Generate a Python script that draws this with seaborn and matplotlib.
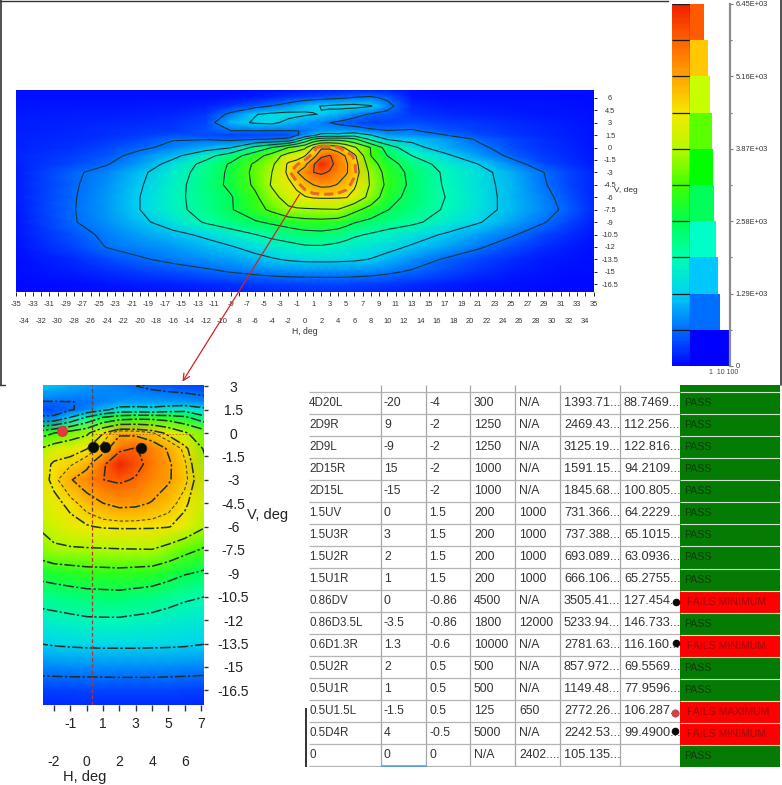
import matplotlib
matplotlib.use("Agg")
import matplotlib.pyplot as plt
from matplotlib.colors import LinearSegmentedColormap, ListedColormap

import numpy as np
import seaborn as sns

# Beam pattern, cd per cell (top row is V=7)
H_DEG = [-35, -28, -24, -20, -16, -12, -9, -6, -4, -2, -1, 0, 1, 2, 3, 4, 5, 6, 8, 10, 13, 17, 21, 25, 29, 32, 35]
V_DEG = [7, 6, 5, 4, 3, 2, 1.5, 1, 0, -1, -2, -3, -4.5, -6, -7.5, -9, -10.5, -12, -13.5, -15, -16.5, -17.5]
FIELD = [
    [50, 50, 50, 50, 50, 50, 50, 60, 70, 90, 100, 110, 120, 130, 140, 150, 160, 170, 170, 130, 60, 50, 50, 50, 40, 40, 30],
    [70, 70, 60, 60, 60, 70, 90, 150, 220, 320, 360, 400, 450, 500, 530, 570, 620, 680, 730, 560, 110, 70, 70, 60, 60, 50, 40],
    [90, 100, 100, 110, 120, 170, 300, 500, 660, 850, 1000, 1150, 1250, 1300, 1350, 1400, 1430, 1450, 1330, 800, 220, 130, 110, 90, 80, 70, 50],
    [120, 140, 150, 170, 190, 300, 750, 1270, 1400, 1450, 1400, 1350, 1300, 1280, 1180, 1100, 950, 800, 590, 520, 300, 210, 170, 130, 100, 80, 60],
    [140, 170, 190, 220, 260, 400, 1100, 1350, 1400, 1150, 1050, 950, 850, 750, 650, 560, 490, 430, 360, 360, 450, 340, 280, 210, 160, 110, 70],
    [150, 190, 230, 280, 320, 470, 630, 630, 620, 630, 640, 660, 760, 900, 950, 950, 940, 930, 750, 660, 690, 480, 370, 270, 190, 130, 80],
    [155, 200, 250, 320, 450, 420, 400, 400, 420, 440, 600, 800, 1150, 1500, 1500, 1450, 1600, 1700, 1300, 900, 850, 650, 450, 300, 200, 140, 85],
    [160, 220, 280, 380, 620, 620, 530, 620, 660, 720, 1300, 2000, 2600, 2900, 3000, 3000, 2900, 2700, 1800, 1250, 1180, 950, 590, 380, 240, 160, 90],
    [170, 260, 380, 560, 760, 1040, 1250, 2130, 2580, 3225, 3500, 3750, 4500, 5050, 5000, 4800, 4400, 3950, 3200, 2300, 1450, 1050, 750, 440, 270, 180, 100],
    [180, 330, 500, 800, 1150, 1720, 2280, 2950, 3500, 4170, 4320, 4500, 4900, 5650, 5850, 5500, 5100, 4650, 3230, 2580, 1935, 1400, 950, 560, 320, 210, 110],
    [170, 420, 620, 950, 1480, 2130, 2650, 3330, 3750, 4600, 4700, 5000, 5700, 6400, 6000, 5580, 5240, 4800, 3500, 2870, 2250, 1720, 1290, 820, 420, 260, 120],
    [150, 580, 800, 1180, 1640, 2200, 2700, 3400, 3870, 4630, 5120, 5460, 5800, 5900, 5750, 5450, 5220, 4850, 3700, 3000, 2400, 1850, 1470, 1060, 645, 380, 180],
    [130, 600, 880, 1240, 1720, 2250, 2720, 3340, 3930, 4400, 4620, 4920, 5160, 5300, 5270, 5130, 4900, 4600, 3800, 3080, 2430, 1880, 1480, 1120, 680, 400, 180],
    [130, 620, 920, 1290, 1770, 2200, 2530, 3120, 3680, 4120, 4380, 4480, 4560, 4580, 4580, 4570, 4540, 4350, 3650, 2850, 2370, 1935, 1530, 1120, 760, 470, 200],
    [120, 630, 930, 1290, 1750, 2180, 2530, 3000, 3350, 3760, 3780, 3800, 3810, 3830, 3840, 3850, 3650, 3400, 2980, 2600, 2280, 1880, 1500, 1140, 800, 540, 220],
    [100, 620, 880, 1180, 1520, 2000, 2280, 2520, 2680, 2850, 2930, 3000, 3020, 3040, 3000, 2950, 2800, 2620, 2420, 2250, 2060, 1680, 1330, 1000, 670, 400, 160],
    [80, 480, 740, 960, 1170, 1380, 1650, 1930, 2100, 2230, 2300, 2360, 2380, 2400, 2340, 2280, 2150, 2020, 1880, 1720, 1520, 1240, 960, 700, 400, 230, 90],
    [70, 400, 660, 790, 930, 1110, 1250, 1480, 1620, 1740, 1800, 1860, 1870, 1870, 1820, 1770, 1700, 1640, 1560, 1430, 1230, 1000, 700, 430, 240, 150, 70],
    [50, 220, 420, 600, 740, 870, 980, 1120, 1240, 1340, 1370, 1390, 1400, 1400, 1400, 1390, 1380, 1360, 1270, 1130, 880, 600, 400, 240, 120, 80, 50],
    [30, 130, 230, 340, 450, 560, 660, 750, 800, 830, 840, 840, 845, 850, 850, 850, 840, 830, 790, 720, 590, 410, 260, 150, 80, 50, 30],
    [15, 50, 90, 130, 170, 220, 270, 310, 340, 370, 375, 380, 385, 390, 390, 390, 380, 370, 350, 310, 230, 160, 100, 60, 35, 25, 15],
    [10, 30, 50, 70, 90, 120, 150, 170, 190, 200, 205, 210, 215, 220, 220, 220, 215, 210, 190, 170, 130, 90, 60, 40, 20, 15, 10],
]
LEVELS = [645, 1290, 1935, 2580, 3225, 3870, 4515, 5160, 5805]
VMAX = 6450
OUTLINE_LEVEL = [4750]

# Measured points marked on the zoomed panel
DOT_H = [0.4, 1.1, 3.35]
DOT_V = [-0.9, -0.9, -0.95]
FAIL_MAX_H = [-1.5]
FAIL_MAX_V = [0.15]

# Legend: histogram bar length per band, top band first
BAND_COLORS = ["#ff5a00", "#ffc800", "#c8ff00", "#5aff00", "#00ff00",
               "#00ff5a", "#00ffc8", "#00c8ff", "#006eff", "#0000ff"]
BAND_LENGTHS = [14, 18, 20, 22, 22.5, 23.5, 26, 28, 30, 39]
LEGEND_LABELS = ["6.45E+03", "5.16E+03", "3.87E+03", "2.58E+03", "1.29E+03", "0"]

# Test point table
COL_NAME = ["4D20R", "4D20L", "2D9R", "2D9L", "2D15R", "2D15L", "1.5UV", "1.5U3R", "1.5U2R", "1.5U1R",
            "0.86DV", "0.86D3.5L", "0.6D1.3R", "0.5U2R", "0.5U1R", "0.5U1.5L", "0.5D4R", "0"]
COL_H = ["20", "-20", "9", "-9", "15", "-15", "0", "3", "2", "1", "0", "-3.5", "1.3", "2", "1", "-1.5", "4", "0"]
COL_V = ["-4", "-4", "-2", "-2", "-2", "-2", "1.5", "1.5", "1.5", "1.5", "-0.86", "-0.86", "-0.6", "0.5", "0.5", "0.5", "-0.5", "0"]
COL_MIN = ["300", "300", "1250", "1250", "1000", "1000", "200", "200", "200", "200",
           "4500", "1800", "10000", "500", "500", "125", "5000", "N/A"]
COL_MAX = ["N/A", "N/A", "N/A", "N/A", "N/A", "N/A", "1000", "1000", "1000", "1000",
           "N/A", "12000", "N/A", "N/A", "N/A", "650", "N/A", "2402...."]
COL_CD = ["1403.41...", "1393.71...", "2469.43...", "3125.19...", "1591.15...", "1845.68...", "731.366...",
          "737.388...", "693.089...", "666.106...", "3505.41...", "5233.94...", "2781.63...", "857.972...",
          "1149.48...", "2772.26...", "2242.53...", "105.135..."]
COL_LM = ["92.3002...", "88.7469...", "112.256...", "122.816...", "94.2109...", "100.805...", "64.2229...",
          "65.1015...", "63.0936...", "65.2755...", "127.454...", "146.733...", "116.160...", "69.5569...",
          "77.9596...", "106.287...", "99.4900...", ""]
STATUS = ["PASS"] * 10 + ["FAILS MINIMUM", "PASS", "FAILS MINIMUM", "PASS", "PASS",
                          "FAILS MAXIMUM", "FAILS MINIMUM", "PASS"]

W, H = 782, 785
sns.set_theme(style="white")
plt.rcParams["font.family"] = ["Liberation Sans", "DejaVu Sans"]

pattern_cmap = LinearSegmentedColormap.from_list(
    "pattern",
    ["#0008ff", "#0070ff", "#00d4f0", "#00ffb0", "#00ff50", "#40ff00",
     "#b8f800", "#f4ea00", "#ffa400", "#ff6400", "#f02000"])


def axes_px(fig, x0, y0, x1, y1, **kw):
    return fig.add_axes([x0 / W, 1 - y1 / H, (x1 - x0) / W, (y1 - y0) / H], **kw)


def draw_field(ax):
    grid_h, grid_v = np.meshgrid(H_DEG, V_DEG)
    z = np.array(FIELD, dtype=float)
    ax.pcolormesh(grid_h, grid_v, z, cmap=pattern_cmap, vmin=0, vmax=VMAX, shading="gouraud")
    return grid_h, grid_v, z


fig = plt.figure(figsize=(W / 100, H / 100), dpi=100)

# 1. Full pattern
ax = axes_px(fig, 16.3, 89.5, 593.5, 291.7)
gh, gv, z = draw_field(ax)
ax.contour(gh, gv, z, levels=LEVELS, colors="#12383c", linewidths=0.8)
ax.contour(gh, gv, z, levels=OUTLINE_LEVEL, colors="#e8682c", linewidths=2.2, linestyles=[(0, (3, 1.6))])
ax.set_xlim(-35, 35)
ax.set_ylim(-17.4, 7)
odd = list(range(-35, 36, 2))
even = list(range(-34, 35, 2))
ax.set_xticks(odd)
ax.set_xticks(even, minor=True)
ax.set_xticklabels([str(i) for i in odd], fontsize=5.4, color="#333333")
ax.set_xticklabels([str(i) for i in even], minor=True, fontsize=5.4, color="#333333")
ax.tick_params(axis="x", which="major", bottom=True, length=3, width=0.7, pad=3.5, color="#222222")
ax.tick_params(axis="x", which="minor", bottom=True, length=3, width=0.7, pad=16, color="#222222")
v_ticks = [6 - 1.5 * i for i in range(16)]
ax.yaxis.tick_right()
ax.set_yticks(v_ticks)
ax.set_yticklabels([f"{t:g}" for t in v_ticks], fontsize=5.3, color="#333333", ha="center")
ax.tick_params(axis="y", right=True, length=2.5, width=0.7, pad=9.5, color="#222222")
for s in ax.spines.values():
    s.set_visible(False)

# 2. Zoomed hot spot
inset = axes_px(fig, 43, 385, 204, 705)
gh, gv, z = draw_field(inset)
inset.contour(gh, gv, z, levels=LEVELS, colors="#1c3028", linewidths=1.1, linestyles=[(0, (7, 1.5, 1.5, 1.5))])
inset.contour(gh, gv, z, levels=OUTLINE_LEVEL, colors="#4a4a20", linewidths=0.8, linestyles=[(0, (3, 2))])
inset.set_xlim(-2.68, 7.18)
inset.set_ylim(-17.44, 3.08)
inset.vlines(0.3, -17.44, -5, color="#c03030", linewidth=0.9, linestyles=(0, (3, 2)))
inset.vlines(0.3, -5, 3.08, color="#704030", linewidth=0.9, linestyles=(0, (3, 2)))
inset.hlines(-0.05, 0.3, 6.5, color="#c06030", linewidth=0.6, linestyles=(0, (2, 2)))
sns.scatterplot(x=DOT_H, y=DOT_V, ax=inset, color="#0a0a0a", s=58, edgecolor="#222222", linewidth=0.5, zorder=5)
sns.scatterplot(x=FAIL_MAX_H, y=FAIL_MAX_V, ax=inset, color="#e83838", s=52, edgecolor="#b84040", linewidth=0.6, zorder=5)
odd_i = [-1, 1, 3, 5, 7]
even_i = [-2, 0, 2, 4, 6]
inset.set_xticks(odd_i)
inset.set_xticks(even_i, minor=True)
inset.set_xticklabels([str(i) for i in odd_i], fontsize=10, color="#222222")
inset.set_xticklabels([str(i) for i in even_i], minor=True, fontsize=10, color="#222222")
inset.tick_params(axis="x", which="major", bottom=True, length=4, width=1, pad=5, color="#333333")
inset.tick_params(axis="x", which="minor", bottom=True, length=4, width=1, pad=32, color="#333333")
v_ticks_i = [3 - 1.5 * i for i in range(14)]
inset.yaxis.tick_right()
inset.set_yticks(v_ticks_i)
inset.set_yticklabels([f"{t:g}" for t in v_ticks_i], fontsize=10, color="#222222", ha="center")
inset.tick_params(axis="y", right=True, length=3, width=1, pad=18, color="#333333")
for s in inset.spines.values():
    s.set_visible(False)

# 3. Legend: colour ramp next to the band histogram
ramp_ax = axes_px(fig, 672, 4, 690, 366)
ramp = np.linspace(VMAX, 0, 200).reshape(-1, 1)
sns.heatmap(ramp, ax=ramp_ax, cmap=pattern_cmap, vmin=0, vmax=VMAX, cbar=False,
            xticklabels=False, yticklabels=False)
ramp_ax.hlines([20 * i for i in range(11)], 0, 1, color="#1a1a1a", linewidth=0.9)
ramp_ax.vlines([1], 0, 200, color="#1a1a1a", linewidth=0.9)
ramp_ax.set_xlim(0, 1)

hist_ax = axes_px(fig, 690, 4, 729.5, 366)
bands = [str(i) for i in range(len(BAND_LENGTHS))]
sns.barplot(x=BAND_LENGTHS, y=bands, hue=bands, palette=BAND_COLORS, ax=hist_ax,
            width=1.0, dodge=False, legend=False, saturation=1, linewidth=0)
hist_ax.set_xlim(0, 39.5)
hist_ax.set_ylim(9.5, -0.5)
hist_ax.set_xticks([])
hist_ax.yaxis.tick_right()
hist_ax.set_yticks([-0.5 + 2 * i for i in range(6)])
hist_ax.set_yticklabels(LEGEND_LABELS, fontsize=5.4, color="#333333")
hist_ax.set_yticks([0.5 + 2 * i for i in range(5)], minor=True)
hist_ax.tick_params(axis="y", which="major", right=True, length=2.5, width=0.8, pad=2, color="#777777")
hist_ax.tick_params(axis="y", which="minor", right=True, length=1.5, width=0.8, color="#777777")
hist_ax.set_xlabel("")
hist_ax.set_ylabel("")
for name, s in hist_ax.spines.items():
    s.set_visible(name == "right")
hist_ax.spines["right"].set_color("#8c8c8c")
hist_ax.spines["right"].set_linewidth(1.6)

# 4. Table grid and cells
table = axes_px(fig, 305, 385, 680, 767)
table.set_xlim(305, 680)
table.set_ylim(767, 385)
table.axis("off")
col_edges = [380.5, 425.7, 470.3, 515, 560.3, 620.3]
row_edges = [392 + 22 * i for i in range(18)]
table.vlines(col_edges, 385, 767, color="#a6a6a6", linewidth=0.9)
table.hlines(row_edges, 309, 680, color="#b4b4b4", linewidth=0.9)
columns = [COL_NAME, COL_H, COL_V, COL_MIN, COL_MAX, COL_CD, COL_LM]
col_text_x = [309, 384, 429, 474, 519, 564, 624]
col_size = [8.4, 8.8, 8.8, 8.8, 8.8, 9.2, 9.2]
for x, col, size in zip(col_text_x, columns, col_size):
    for i, label in enumerate(col):
        table.text(x, 381.5 + 22 * i, label, fontsize=size, color="#333333", va="center", clip_on=True)
table.vlines([305.5], 708, 767, color="#222222", linewidth=1.3)
table.hlines([766.5], 381, 425.7, color="#5b9bd5", linewidth=1.8)

# Status column
status_ax = axes_px(fig, 680, 385, 780, 767)
codes = np.array([[0 if s == "PASS" else 1] for s in STATUS])
labels = np.array([[s] for s in STATUS])
sns.heatmap(codes, ax=status_ax, cmap=ListedColormap(["#047c04", "#ff0000"]), vmin=0, vmax=1, cbar=False,
            annot=labels, fmt="", annot_kws={"fontsize": 7.6},
            xticklabels=False, yticklabels=False)
status_ax.hlines(range(1, 18), 0, 1, color="#cfe3cf", linewidth=0.8)
status_ax.set_ylim(18, 0.68)
for txt, s in zip(status_ax.texts, STATUS):
    txt.set_ha("left")
    txt.set_x(0.04 if s == "PASS" else 0.07)
    txt.set_color("#0c3c0c" if s == "PASS" else "#a00808")
    txt.set_clip_on(True)

# Full figure overlay for frame, captions and the leader arrow
over = fig.add_axes([0, 0, 1, 1], zorder=10)
over.set_xlim(0, W)
over.set_ylim(H, 0)
over.axis("off")
over.patch.set_alpha(0)
over.plot([0.5, 0.5], [0, 385], color="#333333", linewidth=1.2)
over.plot([0, 668], [0.5, 0.5], color="#333333", linewidth=1.0)
over.plot([780.5, 780.5], [0, 385], color="#333333", linewidth=1.2)
over.plot([0, 5], [385, 385], color="#333333", linewidth=1.0)
over.annotate("", xy=(181, 384), xytext=(301, 192),
              arrowprops=dict(arrowstyle="->", color="#d42424", linewidth=0.9, mutation_scale=12))
over.text(305, 331, "H, deg", fontsize=6.2, color="#333333", ha="center", va="center")
over.text(625.5, 191, "V, deg", fontsize=6, color="#333333", ha="center", va="center")
over.text(85, 777, "H, deg", fontsize=10.5, color="#222222", ha="center", va="center")
over.text(268, 515, "V, deg", fontsize=10.5, color="#222222", ha="center", va="center")
over.text(724, 373, "1  10 100", fontsize=5, color="#444444", ha="center", va="center")
# status dots from the table's flagged rows
sns.scatterplot(x=[676, 676, 675], y=[601.7, 643, 730.7], ax=over, color="#0a0a0a", s=30, linewidth=0)
sns.scatterplot(x=[675], y=[712.7], ax=over, color="#d84040", s=28, edgecolor="#a05050", linewidth=0.5)
over.set_xlim(0, W)
over.set_ylim(H, 0)

fig.savefig("out.png", dpi=100)
plt.close(fig)
